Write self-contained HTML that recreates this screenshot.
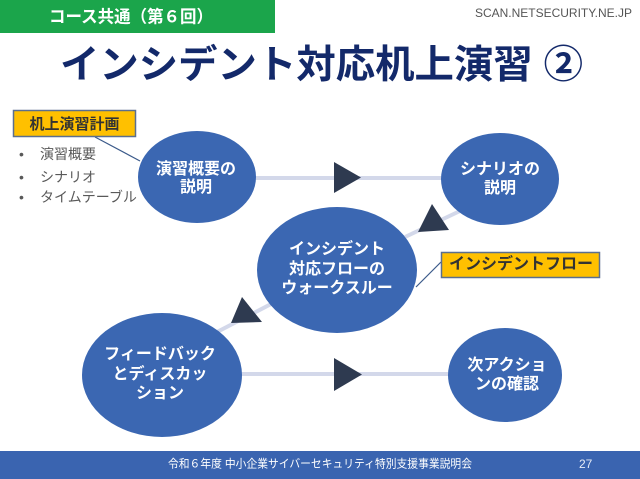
<!DOCTYPE html>
<html><head><meta charset="utf-8"><style>
html,body{margin:0;padding:0;background:#fff;}
svg{display:block;}
.j{font-family:"Liberation Sans","Noto Sans CJK JP",sans-serif;}
</style></head><body>
<svg width="640" height="479" viewBox="0 0 640 479" xmlns="http://www.w3.org/2000/svg" class="j">
<rect x="0" y="0" width="640" height="479" fill="#ffffff"/>
<!-- header -->
<rect x="0" y="0" width="275" height="33" fill="#1ba54b"/>
<text x="49" y="22.5" font-size="17" font-weight="bold" fill="#ffffff" textLength="164" lengthAdjust="spacingAndGlyphs">コース共通（第６回）</text>
<text x="475" y="17" font-size="12" fill="#555" font-family="Liberation Sans, sans-serif" textLength="157" lengthAdjust="spacingAndGlyphs">SCAN.NETSECURITY.NE.JP</text>
<text x="60" y="78" font-size="39" font-weight="bold" fill="#13296a" textLength="523" lengthAdjust="spacingAndGlyphs">インシデント対応机上演習 ②</text>

<!-- connectors -->
<g stroke="#d3d8ea" stroke-width="4" fill="none">
<line x1="255" y1="178" x2="442" y2="178"/>
<line x1="405" y1="237" x2="460" y2="211"/>
<line x1="215" y1="333" x2="275" y2="302"/>
<line x1="241" y1="374" x2="450" y2="374"/>
</g>
<g fill="#2e3a50">
<polygon points="334,162 361,177.5 334,193"/>
<polygon points="432,204 418,232 449,230"/>
<polygon points="242,297 231,323 262,322"/>
<polygon points="334,358 362,374.5 334,391"/>
</g>

<!-- callout lines -->
<line x1="95" y1="137" x2="140" y2="161" stroke="#3b5a8a" stroke-width="1.2"/>
<line x1="441" y1="262" x2="416" y2="287" stroke="#3b5a8a" stroke-width="1.2"/>

<!-- ellipses -->
<g fill="#3b67b2">
<ellipse cx="197" cy="177" rx="59" ry="46"/>
<ellipse cx="500" cy="179" rx="59" ry="46"/>
<ellipse cx="337" cy="270" rx="80" ry="63"/>
<ellipse cx="162" cy="375" rx="80" ry="62"/>
<ellipse cx="505" cy="375" rx="57" ry="47"/>
</g>
<g fill="#ffffff" font-weight="bold" font-size="16" text-anchor="middle">
<text x="196" y="174">演習概要の</text>
<text x="196" y="192">説明</text>
<text x="500" y="174">シナリオの</text>
<text x="500" y="193">説明</text>
<text x="337" y="254">インシデント</text>
<text x="337" y="274">対応フローの</text>
<text x="337" y="293">ウォークスルー</text>
<text x="160" y="359">フィードバック</text>
<text x="160" y="379">とディスカッ</text>
<text x="160" y="398">ション</text>
<text x="507" y="370">次アクショ</text>
<text x="507" y="389">ンの確認</text>
</g>

<!-- yellow labels -->
<rect x="13.5" y="110.5" width="122" height="26" fill="#ffc000" stroke="#5b6f8f" stroke-width="1.5"/>
<text x="74.5" y="129" font-size="15" font-weight="bold" fill="#333" text-anchor="middle">机上演習計画</text>
<rect x="441.5" y="252.5" width="158" height="25" fill="#ffc000" stroke="#5b6f8f" stroke-width="1.5"/>
<text x="521" y="269" font-size="16" font-weight="bold" fill="#333" text-anchor="middle">インシデントフロー</text>

<!-- bullets -->
<g fill="#595959" font-size="14">
<text x="19" y="159">•</text>
<text x="40" y="159">演習概要</text>
<text x="19" y="182">•</text>
<text x="40" y="182">シナリオ</text>
<text x="19" y="202">•</text>
<text x="40" y="202">タイムテーブル</text>
</g>

<!-- footer -->
<rect x="0" y="451" width="640" height="28" fill="#3a64b0"/>
<text x="168" y="467.5" font-size="11.5" fill="#ffffff" textLength="304" lengthAdjust="spacingAndGlyphs">令和６年度 中小企業サイバーセキュリティ特別支援事業説明会</text>
<text x="579" y="468" font-size="12" fill="#e6ecf8" font-family="Liberation Sans, sans-serif">27</text>
</svg>
</body></html>
